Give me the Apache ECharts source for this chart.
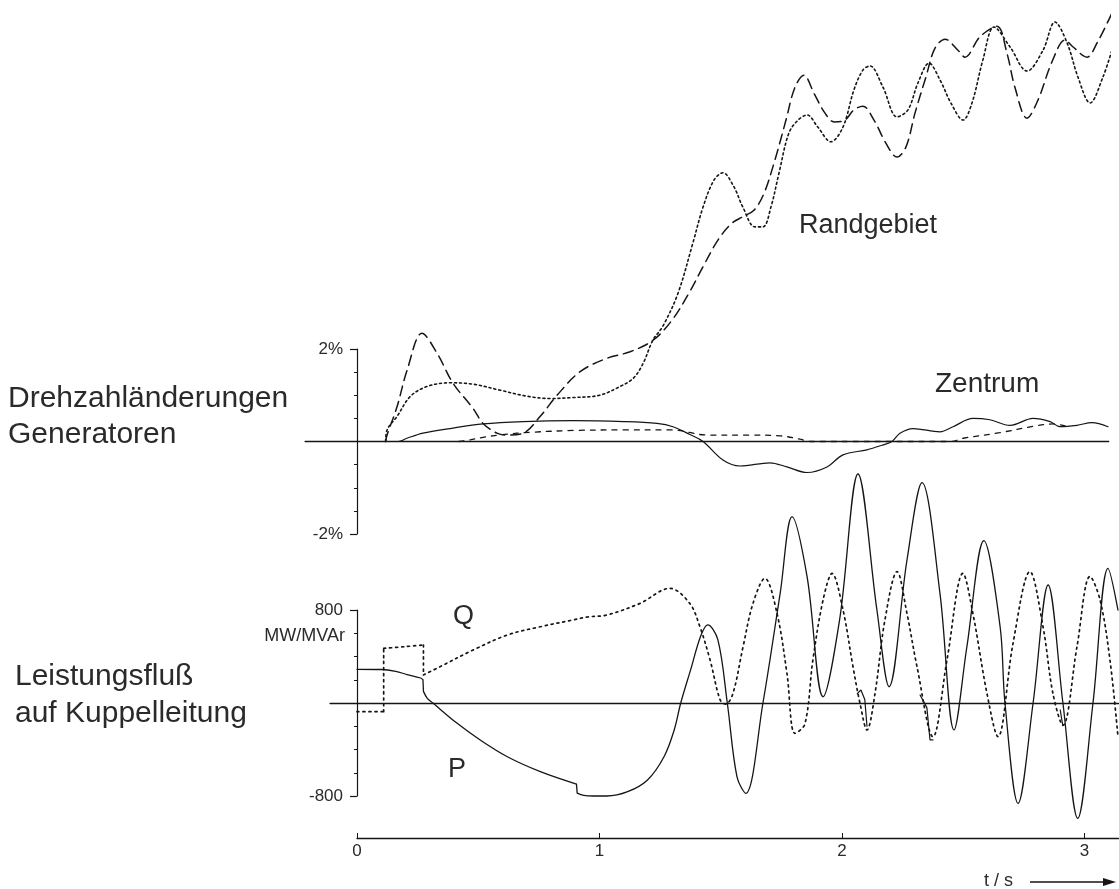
<!DOCTYPE html>
<html><head><meta charset="utf-8">
<script src="https://cdn.jsdelivr.net/npm/echarts@6/dist/echarts.min.js"></script>
<style>html,body{margin:0;padding:0;background:#fff}#c{width:1119px;height:889px}</style>
</head><body><div id="c"></div>
<script>
// ---- data (t in s, values in % or MW/MVAr); null = break between drawn pieces ----
const timeTicks = ['0', '1', '2', '3'];
const speedTicks = [-2, 2];
const powerTicks = [-800, 800];

const randgebietDashed = [[0.118,0],[0.124,0.14],[0.165,0.75],[0.207,1.55],[0.268,2.34],[0.33,1.91],[0.396,1.26],[0.478,0.72],[0.52,0.39],[0.577,0.18],[0.619,0.14],[0.685,0.18],[0.755,0.54],[0.825,1.0],[0.92,1.51],[1.031,1.80],[1.126,1.94],[1.221,2.19],[1.30,2.63],[1.369,3.21],[1.427,3.78],[1.489,4.36],[1.546,4.72],[1.591,4.86],[1.637,5.0],[1.678,5.36],[1.723,6.08],[1.769,6.95],[1.806,7.66],[1.843,7.92],[1.885,7.52],[1.93,7.10],[1.967,6.91],[2.012,6.95],[2.049,7.17],[2.086,7.25],[2.132,6.95],[2.181,6.45],[2.227,6.15],[2.264,6.37],[2.301,7.10],[2.346,7.88],[2.383,8.50],[2.425,8.70],[2.478,8.46],[2.507,8.31],[2.569,8.75],[2.639,8.98],[2.68,8.40],[2.713,7.66],[2.763,6.99],[2.808,7.38],[2.866,8.21],[2.92,8.68],[2.953,8.53],[3.01,8.31],[3.052,8.62],[3.113,9.26]];

const randgebietDotted = [[0.118,0],[0.124,0.25],[0.165,0.54],[0.219,0.97],[0.289,1.19],[0.384,1.27],[0.478,1.24],[0.59,1.11],[0.70,0.98],[0.796,0.93],[0.891,0.95],[1.0,1.0],[1.085,1.19],[1.14,1.37],[1.18,1.69],[1.22,2.19],[1.262,2.5],[1.324,3.21],[1.385,4.29],[1.427,5.07],[1.472,5.65],[1.509,5.81],[1.554,5.51],[1.591,5.07],[1.641,4.64],[1.674,4.64],[1.707,5.07],[1.74,5.80],[1.781,6.67],[1.819,6.95],[1.856,7.06],[1.9,6.80],[1.954,6.48],[2.004,6.80],[2.049,7.60],[2.086,8.03],[2.115,8.12],[2.169,7.66],[2.227,7.02],[2.272,7.17],[2.313,7.75],[2.359,8.18],[2.404,7.82],[2.449,7.32],[2.499,6.95],[2.536,7.32],[2.581,8.25],[2.627,8.96],[2.693,8.53],[2.763,8.01],[2.829,8.46],[2.878,9.07],[2.928,8.62],[2.973,7.88],[3.023,7.32],[3.076,7.88],[3.113,8.46]];

const zentrumSolid = [[0,0],[0.17,0],[0.206,0.07],[0.272,0.18],[0.384,0.28],[0.52,0.38],[0.685,0.43],[0.89,0.45],[1.1,0.43],[1.237,0.39],[1.303,0.32],[1.373,0.15],[1.427,0],[1.509,-0.40],[1.579,-0.53],[1.703,-0.46],[1.773,-0.55],[1.856,-0.67],[1.938,-0.55],[2.004,-0.29],[2.103,-0.18],[2.165,-0.08],[2.206,0],[2.239,0.18],[2.293,0.28],[2.404,0.21],[2.458,0.32],[2.54,0.50],[2.61,0.47],[2.693,0.35],[2.788,0.50],[2.858,0.43],[2.899,0.32],[2.969,0.35],[3.031,0.41],[3.097,0.32]];

const zentrumDashed = [[0.42,0],[0.47,0.04],[0.52,0.09],[0.6,0.15],[0.72,0.2],[0.9,0.24],[1.1,0.25],[1.3,0.25],[1.443,0.14],[1.62,0.14],[1.75,0.12],[1.827,0.05],[1.87,0],[2.45,0],[2.5,0.07],[2.65,0.19],[2.79,0.33],[2.87,0.38],[2.92,0.34]];

const powerP = [[0,290],[0.1,288],[0.16,272],[0.206,245],[0.262,215],[0.272,200],null,[0.272,200],[0.274,100],null,[0.274,100],[0.29,40],[0.313,0],[0.413,-175],[0.508,-318],[0.62,-462],[0.756,-590],[0.905,-697],null,[0.905,-697],[0.908,-775],null,[0.908,-775],[0.935,-795],[0.975,-800],[1.03,-800],[1.116,-763],[1.198,-662],[1.266,-462],[1.308,-232],[1.335,0],[1.376,287],[1.417,574],[1.446,672],[1.488,545],[1.527,0],[1.567,-636],[1.603,-777],[1.674,0],[1.745,943],[1.794,1603],[1.856,1087],[1.922,54],[1.99,714],[2.066,1970],[2.144,800],[2.194,140],[2.268,1230],[2.33,1895],[2.404,943],[2.462,-232],[2.515,484],[2.585,1396],[2.652,656],[2.672,0],[2.726,-863],[2.788,0],[2.85,1015],[2.911,0],[2.972,-992],[3.035,0],[3.097,1158],[3.138,800]];

const powerQ = [[0,-75],[0.11,-75],null,[0.11,-75],[0.11,470],null,[0.11,470],[0.2,485],[0.274,499],null,[0.274,499],[0.274,241],null,[0.274,241],[0.342,312],[0.478,455],[0.62,585],[0.756,656],[0.89,714],[0.95,740],[1.03,757],[1.167,857],[1.29,986],[1.372,857],[1.414,656],[1.456,370],[1.497,29],[1.52,-10],[1.55,80],[1.592,484],[1.633,857],[1.682,1072],[1.732,771],[1.773,255],[1.806,-261],[1.847,-180],[1.88,371],[1.922,886],[1.959,1115],[2.004,803],[2.045,316],[2.074,0],[2.103,-232],[2.136,80],[2.177,714],[2.227,1130],[2.268,769],[2.309,316],[2.375,-290],[2.433,371],[2.499,1115],[2.54,768],[2.598,80],[2.643,-290],[2.705,510],[2.775,1130],[2.829,656],[2.87,80],[2.911,-192],[2.969,484],[3.023,1089],[3.064,888],[3.105,370],[3.138,-290]];

const powerQJumps = [[2.063,80],[2.078,112],[2.094,30],[2.103,-200],null,[2.322,69],[2.35,-40],[2.363,-318],[2.375,-318],null,[2.9,-60],[2.91,-190]];

// ---- layout ----
const X0 = 357, PX = 242.5;
const topRange = [-0.214, 3.1], botRange = [-0.111, 3.14], timeRange = [0, 3.14];
function gx(r) { return { left: X0 + r[0] * PX, width: (r[1] - r[0]) * PX }; }
const INK = '#151515', TXT = '#2a2a2a', FONT = 'Liberation Sans, Arial, sans-serif';
const LABEL_RIGHT = 343;

const chart = echarts.init(document.getElementById('c'), null, { renderer: 'canvas' });

function yAxisCfg(grid, ticks, r, fmt) {
  return {
    gridIndex: grid, type: 'value', min: ticks[0], max: ticks[1], interval: ticks[1] - ticks[0],
    axisLine: { show: true, onZero: true, lineStyle: { color: INK, width: 1.2 } },
    axisTick: { show: true, length: 7, lineStyle: { color: INK, width: 1.2 } },
    minorTick: { show: true, splitNumber: 8, length: 3, lineStyle: { color: INK, width: 1 } },
    splitLine: { show: false },
    axisLabel: { color: TXT, fontSize: 17, fontFamily: FONT, margin: (X0 + r[0] * PX) - LABEL_RIGHT, formatter: fmt }
  };
}
function xAxisCfg(grid, r) {
  return {
    gridIndex: grid, type: 'value', min: r[0], max: r[1],
    axisLine: { show: true, onZero: true, lineStyle: { color: INK, width: 1.3 } },
    axisTick: { show: false }, axisLabel: { show: false }, splitLine: { show: false }
  };
}
function ser(name, data, xi, type, width, smooth) {
  return {
    name, type: 'line', data, xAxisIndex: xi, yAxisIndex: xi, clip: false,
    showSymbol: false, symbol: 'none', smooth: smooth, connectNulls: false,
    lineStyle: { color: INK, width: width, type: type, cap: 'round' }, silent: true
  };
}

const option = {
  backgroundColor: '#fff',
  animation: false,
  grid: [
    Object.assign({ top: 349, height: 185 }, gx(topRange)),
    Object.assign({ top: 610, height: 186 }, gx(botRange)),
    Object.assign({ top: 838, height: 1 }, gx(timeRange))
  ],
  xAxis: [
    xAxisCfg(0, topRange),
    xAxisCfg(1, botRange),
    {
      gridIndex: 2, type: 'value', min: timeRange[0], max: timeRange[1], interval: 1, position: 'top',
      axisLine: { show: true, onZero: false, lineStyle: { color: INK, width: 1.3 } },
      axisTick: { show: true, inside: false, length: 5, lineStyle: { color: INK } },
      splitLine: { show: false },
      axisLabel: { show: true, showMaxLabel: false, color: TXT, fontSize: 17, fontFamily: 'Liberation Sans Narrow, Liberation Sans, sans-serif', margin: -22,
        formatter: v => timeTicks[Math.round(v)] }
    }
  ],
  yAxis: [
    yAxisCfg(0, speedTicks, topRange, v => v + '%'),
    yAxisCfg(1, powerTicks, botRange, v => String(v)),
    { gridIndex: 2, type: 'value', min: 0, max: 1, show: false }
  ],
  series: [
    ser('Randgebiet gestrichelt', randgebietDashed, 0, [10, 6], 1.5, 0.35),
    ser('Randgebiet punktiert', randgebietDotted, 0, [2, 3], 1.6, 0.35),
    ser('Zentrum', zentrumSolid, 0, 'solid', 1.2, 0.35),
    ser('Zentrum gestrichelt', zentrumDashed, 0, [5, 6], 1.3, 0.35),
    ser('P', powerP, 1, 'solid', 1.3, 0.35),
    ser('Q', powerQ, 1, [2, 4], 1.7, 0.35),
    ser('Q Sprung', powerQJumps, 1, 'solid', 1.2, false)
  ],
  graphic: [
    { type: 'text', left: 8, top: 384, style: { text: 'Drehzahländerungen', fill: TXT, font: '30px ' + FONT } },
    { type: 'text', left: 8, top: 420, style: { text: 'Generatoren', fill: TXT, font: '30px ' + FONT } },
    { type: 'text', left: 15, top: 662, style: { text: 'Leistungsfluß', fill: TXT, font: '30px ' + FONT } },
    { type: 'text', left: 15, top: 699, style: { text: 'auf Kuppelleitung', fill: TXT, font: '30px ' + FONT } },
    { type: 'text', left: 799, top: 212, style: { text: 'Randgebiet', fill: TXT, font: '27px ' + FONT } },
    { type: 'text', left: 935, top: 370, style: { text: 'Zentrum', fill: TXT, font: '28px ' + FONT } },
    { type: 'text', left: 453, top: 603, style: { text: 'Q', fill: TXT, font: '27px ' + FONT } },
    { type: 'text', left: 448, top: 756, style: { text: 'P', fill: TXT, font: '27px ' + FONT } },
    { type: 'text', right: 1119 - 345, top: 627, style: { text: 'MW/MVAr', fill: TXT, font: '18px ' + FONT, textAlign: 'right' } },
    { type: 'text', left: 984, top: 872, style: { text: 't / s', fill: TXT, font: '18px ' + FONT } },
    { type: 'line', shape: { x1: 1030, y1: 882, x2: 1106, y2: 882 }, style: { stroke: INK, lineWidth: 1.3 } },
    { type: 'polygon', shape: { points: [[1116, 882], [1103, 878], [1103, 886]] }, style: { fill: INK } }
  ]
};
chart.setOption(option);
</script></body></html>
